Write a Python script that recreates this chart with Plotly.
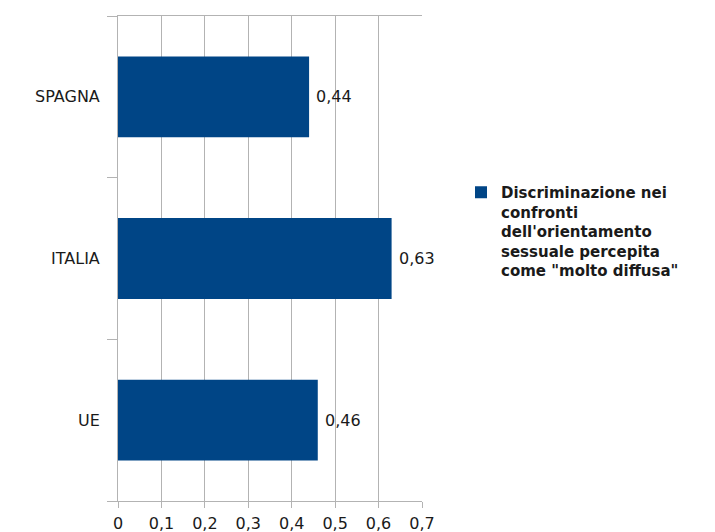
import plotly.graph_objects as go

# Share of people perceiving discrimination based on sexual orientation as "very widespread"
countries = ["UE", "ITALIA", "SPAGNA"]
values = [0.46, 0.63, 0.44]
value_labels = ["0,46", "0,63", "0,44"]
series_name = ("Discriminazione nei<br>confronti<br>dell'orientamento<br>"
               "sessuale percepita<br>come \"molto diffusa\"")
x_ticks = [0, 0.1, 0.2, 0.3, 0.4, 0.5, 0.6, 0.7]
x_tick_text = ["0", "0,1", "0,2", "0,3", "0,4", "0,5", "0,6", "0,7"]

BAR = "#004586"
GRID = "#b3b3b3"
TEXT = "#1a1a1a"
FONT = "DejaVu Sans"

fig = go.Figure()
fig.add_trace(go.Bar(
    y=countries,
    x=values,
    orientation="h",
    name=series_name,
    marker=dict(color=BAR, line=dict(width=0)),
    width=0.5,
    showlegend=True,
))

# value labels placed just right of each bar end
for c, v, t in zip(countries, values, value_labels):
    fig.add_annotation(
        x=v, y=c, xref="x", yref="y",
        text=t, showarrow=False,
        xanchor="left", yanchor="middle",
        xshift=5,
        font=dict(family=FONT, size=16, color=TEXT),
    )

fig.update_layout(
    width=715,
    height=532,
    margin=dict(l=118, r=293, t=16, b=31, autoexpand=False),
    paper_bgcolor="white",
    plot_bgcolor="white",
    font=dict(family=FONT, size=15, color=TEXT),
    separators=",.",
    xaxis=dict(
        range=[0, 0.7],
        tickvals=x_ticks,
        ticktext=x_tick_text,
        showgrid=True,
        gridcolor=GRID,
        gridwidth=1,
        zeroline=False,
        showline=True,
        linecolor=GRID,
        linewidth=1,
        mirror=True,
        ticks="outside",
        ticklen=6,
        tickcolor=GRID,
        tickfont=dict(family=FONT, size=16, color=TEXT),
        ticklabelstandoff=2,
        automargin=False,
        fixedrange=True,
    ),
    yaxis=dict(
        categoryorder="array",
        categoryarray=countries,
        showgrid=False,
        zeroline=False,
        showline=True,
        linecolor=GRID,
        linewidth=1,
        ticks="outside",
        tickson="boundaries",
        ticklen=10,
        tickcolor=GRID,
        tickfont=dict(family=FONT, size=16, color=TEXT),
        ticklabelstandoff=14,
        automargin=False,
        fixedrange=True,
    ),
    legend=dict(
        xref="container",
        yref="container",
        x=461 / 715,
        y=1 - 176 / 532,
        xanchor="left",
        yanchor="top",
        valign="top",
        bgcolor="rgba(0,0,0,0)",
        font=dict(family=FONT, size=15, color=TEXT, weight="bold"),
        itemwidth=30,
    ),
)

fig.write_html("out.html")
